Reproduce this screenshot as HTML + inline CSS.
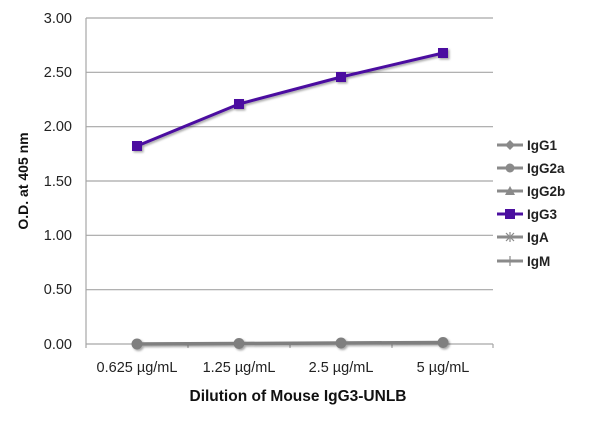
<!DOCTYPE html>
<html><head><style>
body{margin:0;background:#fff;}
svg text{font-family:"Liberation Sans",sans-serif;}
</style></head><body>
<svg width="600" height="416" viewBox="0 0 600 416" xmlns="http://www.w3.org/2000/svg">
<defs><filter id="sh" x="-50%" y="-50%" width="200%" height="200%"><feDropShadow dx="1.5" dy="1.5" stdDeviation="1" flood-color="#000" flood-opacity="0.35"/></filter></defs>
<g stroke="#a6a6a6" stroke-width="1.2">
<line x1="86" y1="18" x2="493" y2="18"/>
<line x1="86" y1="72.3" x2="493" y2="72.3"/>
<line x1="86" y1="126.7" x2="493" y2="126.7"/>
<line x1="86" y1="181" x2="493" y2="181"/>
<line x1="86" y1="235.3" x2="493" y2="235.3"/>
<line x1="86" y1="289.7" x2="493" y2="289.7"/>
<line x1="86" y1="344" x2="493" y2="344"/>
<line x1="86" y1="18" x2="86" y2="348"/>
<line x1="188" y1="344" x2="188" y2="348"/>
<line x1="290" y1="344" x2="290" y2="348"/>
<line x1="392" y1="344" x2="392" y2="348"/>
<line x1="493" y1="344" x2="493" y2="348"/>
</g>
<g font-size="14.5" fill="#222" text-anchor="end">
<text x="72" y="23">3.00</text><text x="72" y="77">2.50</text><text x="72" y="131">2.00</text>
<text x="72" y="186">1.50</text><text x="72" y="240">1.00</text><text x="72" y="294">0.50</text><text x="72" y="349">0.00</text>
</g>
<g font-size="14.5" fill="#222" text-anchor="middle">
<text x="137" y="372">0.625 µg/mL</text><text x="239" y="372">1.25 µg/mL</text>
<text x="341" y="372">2.5 µg/mL</text><text x="443" y="372">5 µg/mL</text>
</g>
<text x="298" y="401" font-size="15.5" font-weight="bold" text-anchor="middle" fill="#111">Dilution of Mouse IgG3-UNLB</text>
<text transform="translate(28,181) rotate(-90)" font-size="14" font-weight="bold" text-anchor="middle" fill="#111">O.D. at 405 nm</text>
<g filter="url(#sh)">
<polyline points="137,344 239,343.5 341,343 443,342.5" fill="none" stroke="#7f7f7f" stroke-width="3.5"/>
<circle cx="137" cy="344" r="5.5" fill="#7f7f7f"/><circle cx="239" cy="343.5" r="5.5" fill="#7f7f7f"/>
<circle cx="341" cy="343" r="5.5" fill="#7f7f7f"/><circle cx="443" cy="342.5" r="5.5" fill="#7f7f7f"/>
<polyline points="137,146 239,104 341,77 443,53" fill="none" stroke="#4b0fa0" stroke-width="3"/>
<rect x="132" y="141" width="10" height="10" fill="#4b0fa0"/><rect x="234" y="99" width="10" height="10" fill="#4b0fa0"/>
<rect x="336" y="72" width="10" height="10" fill="#4b0fa0"/><rect x="438" y="48" width="10" height="10" fill="#4b0fa0"/>
</g>
<g stroke="#8a8a8a" stroke-width="3">
<line x1="497" y1="145" x2="523" y2="145"/><line x1="497" y1="168" x2="523" y2="168"/>
<line x1="497" y1="191" x2="523" y2="191"/><line x1="497" y1="237" x2="523" y2="237"/>
<line x1="497" y1="261" x2="523" y2="261"/>
</g>
<line x1="497" y1="214" x2="523" y2="214" stroke="#4b0fa0" stroke-width="3"/>
<polygon points="510,140 515,145 510,150 505,145" fill="#8a8a8a"/>
<circle cx="510" cy="168" r="4.5" fill="#8a8a8a"/>
<polygon points="510,186 515,195 505,195" fill="#8a8a8a"/>
<rect x="505" y="209" width="10" height="10" fill="#4b0fa0"/>
<g stroke="#8a8a8a" stroke-width="1.2"><line x1="506" y1="233" x2="514" y2="241"/><line x1="514" y1="233" x2="506" y2="241"/><line x1="510" y1="232" x2="510" y2="242"/><line x1="510" y1="256" x2="510" y2="266"/></g>
<g font-size="13.5" font-weight="bold" fill="#222">
<text x="527" y="150">IgG1</text><text x="527" y="173">IgG2a</text><text x="527" y="196">IgG2b</text>
<text x="527" y="219">IgG3</text><text x="527" y="242">IgA</text><text x="527" y="266">IgM</text>
</g>
</svg>
</body></html>
